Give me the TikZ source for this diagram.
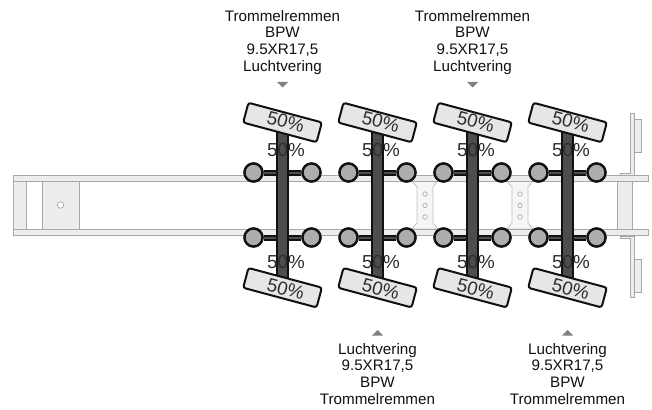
\documentclass[tikz,border=0pt]{standalone}
\usepackage{fontspec}
\setmainfont{Liberation Sans}
\definecolor{railline}{HTML}{A8A8A8}
\definecolor{railfill}{HTML}{EDEDED}
\definecolor{crossfill}{HTML}{F6F6F6}
\definecolor{axlefill}{HTML}{4D4D4D}
\definecolor{hubfill}{HTML}{ADADAD}
\definecolor{tyrefill}{HTML}{E6E6E6}
\definecolor{inkc}{HTML}{111111}
\definecolor{textc}{HTML}{2E2E2E}
\definecolor{arrowc}{HTML}{808080}
\tikzset{
  rail/.style={draw=railline,line width=0.9pt,fill=railfill},
  crossm/.style={draw=railline!70,line width=0.8pt,fill=crossfill},
  bolt/.style={circle,draw=railline,line width=0.7pt,fill=white,minimum size=4.4pt,inner sep=0pt},
  hub/.style={circle,draw=inkc,line width=2.3pt,fill=hubfill,minimum size=18pt,inner sep=0pt},
  stub/.style={draw=inkc,line width=6pt},
  stubin/.style={draw=axlefill,line width=2pt},
  axle/.style={draw=inkc,line width=1.4pt,fill=axlefill},
  tyre/.style={draw=inkc,line width=2pt,fill=tyrefill,rounded corners=2.5pt,minimum width=76pt,minimum height=20.5pt,inner sep=0pt,rotate=-15},
  pct/.style={text=textc,font=\fontsize{18.8}{20}\selectfont,inner sep=0pt},
  pctr/.style={pct,rotate=-15},
  info/.style={text=inkc,font=\fontsize{15.2}{16.7}\selectfont,align=center,inner sep=0pt},
  mark down/.style={fill=arrowc,draw=none},
}
\begin{document}
\begin{tikzpicture}[x=1pt,y=-1pt]
\useasboundingbox (0,0) rectangle (652,409);
\fill[white] (0,0) rectangle (652,409);
% rear / front end boxes
\draw[rail] (13,181) rectangle (26,229);
\draw[rail] (42,181) rectangle (79,229);
\node[bolt,minimum size=6.5pt] (kp) at (60.5,205) {};
% end bracket
\draw[rail] (617.5,181) rectangle (632,229);
\draw[rail] (634,119) rectangle (641,152);
\draw[rail] (634,259) rectangle (641,292);
\draw[rail] (620,173) -- (630,173) -- (630,113.5) -- (634,113.5) -- (634,175) -- (620,175) -- cycle;
\draw[rail] (620,238) -- (630,238) -- (630,297) -- (634,297) -- (634,236) -- (620,236) -- cycle;
% cross members
\foreach \cx/\n in {425/a,520/b}{
  \draw[crossm] (\cx-13,181) -- (\cx-8,187) -- (\cx-8,223) -- (\cx-13,229) -- (\cx+13,229) -- (\cx+8,223) -- (\cx+8,187) -- (\cx+13,181) -- cycle;
  \node[bolt] (bolt\n1) at (\cx,194) {};
  \node[bolt] (bolt\n2) at (\cx,205.5) {};
  \node[bolt] (bolt\n3) at (\cx,217) {};
}
% rails
\draw[rail] (13,175.5) rectangle (648,181);
\draw[rail] (13,229) rectangle (648,235);
% axles
\foreach \i/\ax in {1/282.5,2/377.5,3/472.5,4/567.5}{
  \node[hub] (lt\i) at (\ax-29,172.5) {};
  \node[hub] (rt\i) at (\ax+29,172.5) {};
  \node[hub] (lb\i) at (\ax-29,237.5) {};
  \node[hub] (rb\i) at (\ax+29,237.5) {};
  \draw[stub] (lt\i) -- (rt\i);
  \draw[stubin] (lt\i) -- (rt\i);
  \draw[stub] (lb\i) -- (rb\i);
  \draw[stubin] (lb\i) -- (rb\i);
  \node[hub] at (lt\i) {};
  \node[hub] at (rt\i) {};
  \node[hub] at (lb\i) {};
  \node[hub] at (rb\i) {};
  \draw[axle] (\ax-5.5,132) rectangle (\ax+5.5,280);
  \node[tyre] (tt\i) at (\ax,122.5) {};
  \node[tyre] (tb\i) at (\ax,287.7) {};
  \node[pctr] at (\ax+3.2,121.7) {50\%};
  \node[pctr] at (\ax+3.2,289) {50\%};
  \node[pct] at (\ax+3.5,150) {50\%};
  \node[pct] at (\ax+3.5,262) {50\%};
}
% labels
\foreach \ax/\n in {282.5/p,472.5/q}{
  \node[info,anchor=north] (lab\n) at (\ax,10) {Trommelremmen\\BPW\\9.5XR17,5\\Luchtvering};
  \fill[mark down] (\ax-5.5,82) -- (\ax+5.5,82) -- (\ax,87.5) -- cycle;
}
\foreach \ax/\n in {377.5/r,567.5/s}{
  \node[info,anchor=north] (lab\n) at (\ax,343) {Luchtvering\\9.5XR17,5\\BPW\\Trommelremmen};
  \fill[mark down] (\ax-5.5,335.5) -- (\ax+5.5,335.5) -- (\ax,330) -- cycle;
}
\end{tikzpicture}
\end{document}
